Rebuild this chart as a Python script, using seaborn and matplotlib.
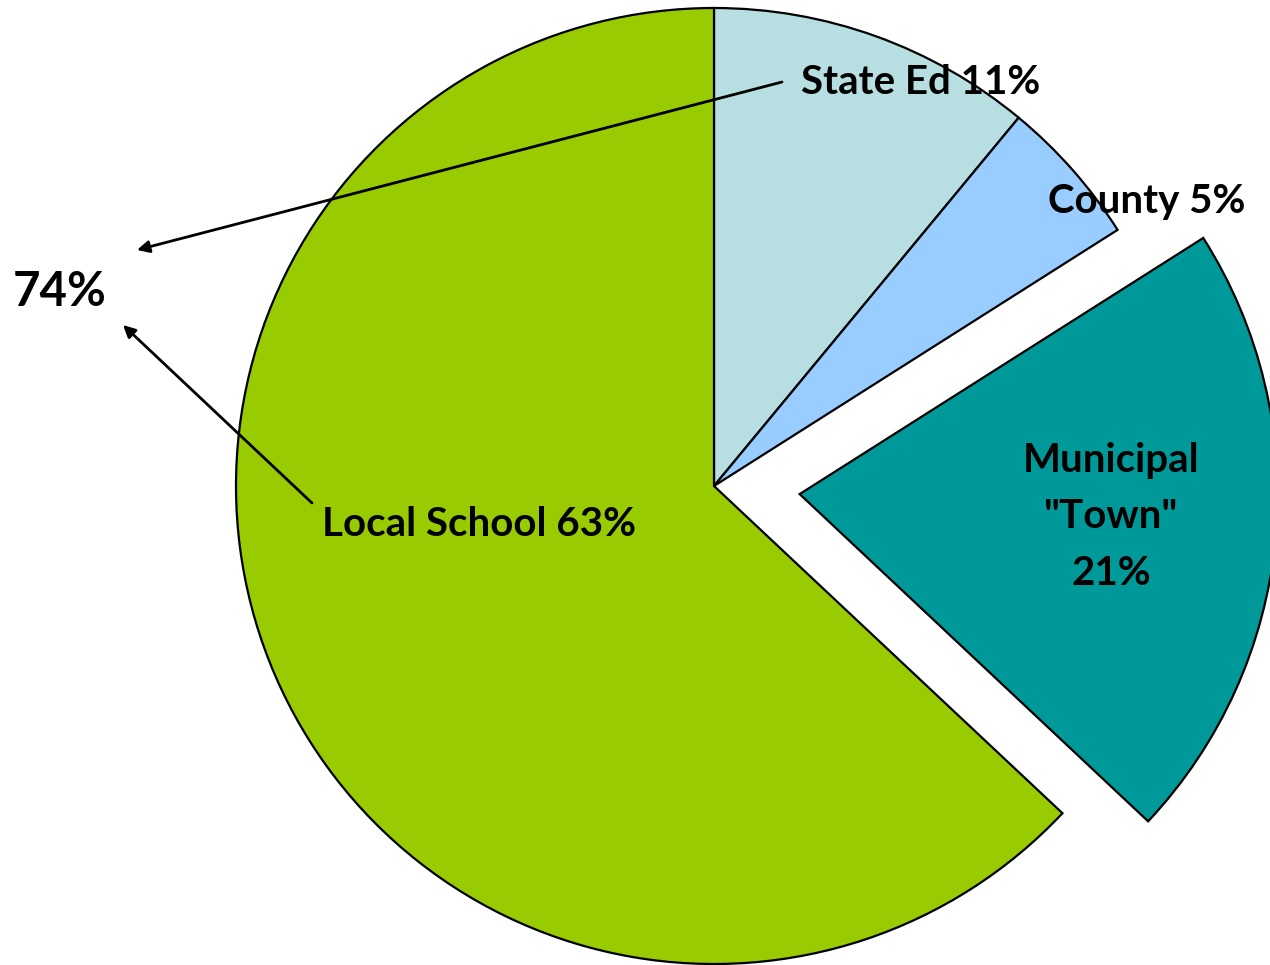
import matplotlib
matplotlib.use("Agg")
import matplotlib.pyplot as plt
import seaborn as sns

sns.set_style("white")
plt.rcParams['font.family'] = ['Lato', 'DejaVu Sans']

categories = ["State Ed", "County", "Municipal \"Town\"", "Local School"]
values = [11, 5, 21, 63]
label_texts = ["State Ed 11%", "County 5%", "Municipal\n\"Town\"\n21%", "Local School 63%"]
colors = ["#B7DFE2", "#99CCFF", "#009999", "#99CC00"]
combined_label = "74%"

W, H = 1270, 965
fig = plt.figure(figsize=(12.7, 9.65), dpi=100)
ax = fig.add_axes([0, 0, 1, 1])

cx, cy, r = 714, H - 486, 478
explode = [0, 0, 0.18 * r, 0]
wedges, _ = ax.pie(values, colors=colors, startangle=90, counterclock=False,
                   explode=explode, center=(cx, cy), radius=r, frame=True,
                   wedgeprops=dict(edgecolor='black', linewidth=1.6))
ax.set_xlim(0, W)
ax.set_ylim(0, H)
ax.set_aspect('equal')
ax.axis('off')

fs = 29
lab_pos = [(921, 83), (1147, 202), (1111, 517), (479, 525)]
for t, (x, y) in zip(label_texts, lab_pos):
    ax.text(x, H - y, t, ha='center', va='center', fontsize=fs, fontweight='bold',
            color='black', linespacing=1.65)

ax.text(60, H - 292, combined_label, ha='center', va='center', fontsize=34,
        fontweight='bold', color='black')

arrow_kw = dict(arrowstyle='-|>', color='black', lw=2, mutation_scale=18,
                shrinkA=0, shrinkB=0)
ax.annotate('', xy=(137, H - 250), xytext=(782, H - 82), arrowprops=arrow_kw)
ax.annotate('', xy=(123, H - 325), xytext=(312, H - 503), arrowprops=arrow_kw)

fig.savefig("out.png", dpi=100)
